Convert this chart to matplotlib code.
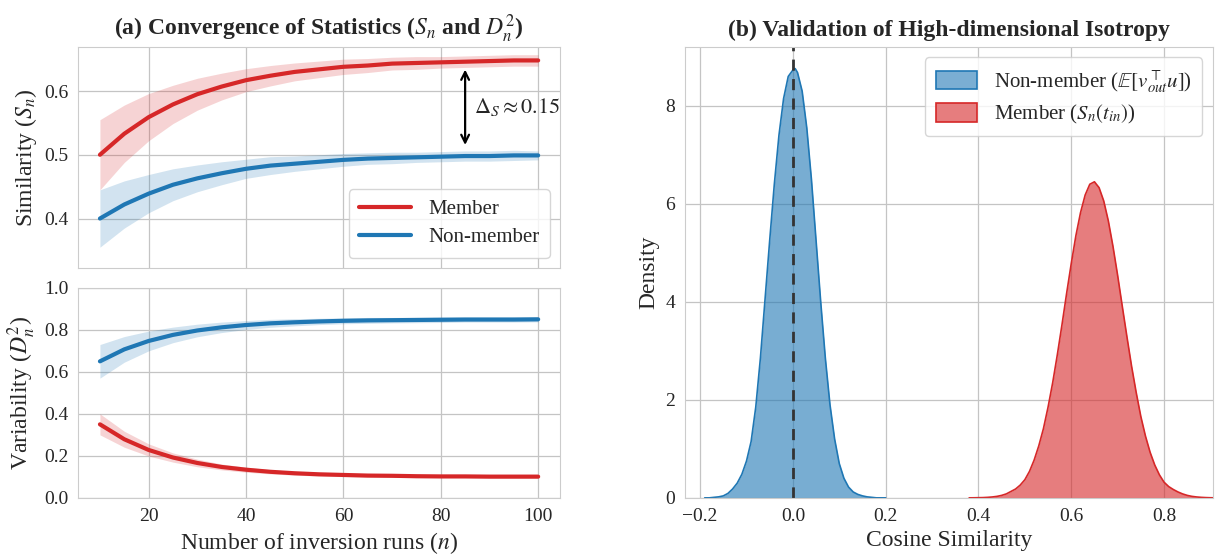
import numpy as np
import matplotlib
matplotlib.use("Agg")
import matplotlib.pyplot as plt
import seaborn as sns
from matplotlib.patches import Patch

sns.set_style("whitegrid")
plt.rcParams['font.family'] = ['Liberation Serif', 'DejaVu Serif']
plt.rcParams['mathtext.fontset'] = 'stix'

# --- data ---
runs = [10, 15, 20, 25, 30, 35, 40, 45, 50, 55, 60, 65, 70, 75, 80, 85, 90, 95, 100]

sim_member = [0.500, 0.533, 0.559, 0.579, 0.595, 0.607, 0.617, 0.624, 0.630, 0.634,
              0.638, 0.640, 0.643, 0.644, 0.645, 0.646, 0.647, 0.648, 0.648]
sim_member_err = [0.055, 0.045, 0.037, 0.030, 0.025, 0.021, 0.018, 0.016, 0.014, 0.013,
                  0.012, 0.011, 0.010, 0.010, 0.009, 0.009, 0.009, 0.009, 0.009]
sim_nonmember = [0.400, 0.422, 0.439, 0.453, 0.463, 0.471, 0.478, 0.483, 0.486, 0.489,
                 0.492, 0.494, 0.495, 0.496, 0.497, 0.498, 0.498, 0.499, 0.499]
sim_nonmember_err = [0.045, 0.037, 0.030, 0.025, 0.021, 0.018, 0.015, 0.014, 0.012, 0.011,
                     0.010, 0.009, 0.009, 0.008, 0.008, 0.008, 0.008, 0.008, 0.007]

var_member = [0.350, 0.279, 0.228, 0.192, 0.166, 0.147, 0.134, 0.124, 0.117, 0.112,
              0.109, 0.106, 0.105, 0.103, 0.102, 0.102, 0.101, 0.101, 0.101]
var_member_err = [0.050, 0.038, 0.029, 0.022, 0.018, 0.014, 0.012, 0.010, 0.009, 0.008,
                  0.008, 0.007, 0.007, 0.007, 0.006, 0.006, 0.006, 0.006, 0.006]
var_nonmember = [0.650, 0.707, 0.747, 0.776, 0.797, 0.812, 0.823, 0.831, 0.836, 0.840,
                 0.843, 0.845, 0.846, 0.847, 0.848, 0.849, 0.849, 0.849, 0.850]
var_nonmember_err = [0.080, 0.061, 0.047, 0.037, 0.030, 0.025, 0.021, 0.019, 0.017, 0.015,
                     0.014, 0.014, 0.013, 0.013, 0.013, 0.012, 0.012, 0.012, 0.012]

# density curves (cosine similarity)
cos_nonmember = [-0.19, -0.18, -0.17, -0.16, -0.15, -0.14, -0.13, -0.12, -0.11, -0.10,
                 -0.09, -0.08, -0.07, -0.06, -0.05, -0.04, -0.03, -0.02, -0.01, 0.00,
                 0.005, 0.01, 0.02, 0.03, 0.04, 0.05, 0.06, 0.07, 0.08, 0.09, 0.10,
                 0.11, 0.12, 0.13, 0.14, 0.15, 0.16, 0.17, 0.18, 0.19, 0.20]
dens_nonmember = [0.00, 0.00, 0.01, 0.02, 0.04, 0.09, 0.18, 0.30, 0.48, 0.75,
                  1.15, 1.85, 2.85, 4.05, 5.25, 6.40, 7.40, 8.15, 8.60, 8.73,
                  8.76, 8.68, 8.30, 7.55, 6.50, 5.25, 4.00, 2.85, 1.90, 1.20, 0.70,
                  0.40, 0.22, 0.12, 0.07, 0.04, 0.02, 0.01, 0.00, 0.00, 0.00]

cos_member = [0.38, 0.39, 0.40, 0.41, 0.42, 0.43, 0.44, 0.45, 0.46, 0.47, 0.48, 0.49,
              0.50, 0.51, 0.52, 0.53, 0.54, 0.55, 0.56, 0.57, 0.58, 0.59, 0.60, 0.61,
              0.62, 0.63, 0.64, 0.65, 0.66, 0.67, 0.68, 0.69, 0.70, 0.71, 0.72, 0.73,
              0.74, 0.75, 0.76, 0.77, 0.78, 0.79, 0.80, 0.81, 0.82, 0.83, 0.84, 0.85,
              0.86, 0.87, 0.88, 0.89, 0.90, 0.91]
dens_member = [0.000, 0.001, 0.003, 0.005, 0.010, 0.018, 0.030, 0.050, 0.080, 0.130, 0.180, 0.260,
               0.370, 0.540, 0.770, 1.060, 1.410, 1.850, 2.350, 2.920, 3.530, 4.170, 4.780, 5.350,
               5.820, 6.180, 6.400, 6.450, 6.330, 6.060, 5.650, 5.130, 4.540, 3.910, 3.290, 2.690,
               2.150, 1.660, 1.260, 0.930, 0.670, 0.470, 0.320, 0.230, 0.170, 0.120, 0.080, 0.050,
               0.030, 0.018, 0.010, 0.005, 0.002, 0.000]

RED = '#d62728'
BLUE = '#1f77b4'
TICK_FS = 14
LABEL_FS = 17
TITLE_FS = 17

fig = plt.figure(figsize=(12.25, 5.6), dpi=100)
ax1 = fig.add_axes([0.0637, 0.521, 0.3935, 0.395])
ax2 = fig.add_axes([0.0637, 0.111, 0.3935, 0.375], sharex=ax1)
ax3 = fig.add_axes([0.559, 0.111, 0.431, 0.805])

for ax in (ax1, ax2, ax3):
    ax.tick_params(labelsize=TICK_FS)
    ax.grid(color='#c4c4c4', linewidth=0.9)
    for s in ax.spines.values():
        s.set_color('#cccccc')

r = np.array(runs)

# (a) top: similarity
ax1.fill_between(r, np.array(sim_member) - sim_member_err, np.array(sim_member) + sim_member_err,
                 color=RED, alpha=0.2, linewidth=0)
ax1.fill_between(r, np.array(sim_nonmember) - sim_nonmember_err, np.array(sim_nonmember) + sim_nonmember_err,
                 color=BLUE, alpha=0.2, linewidth=0)
ax1.plot(r, sim_member, color=RED, lw=3, label='Member')
ax1.plot(r, sim_nonmember, color=BLUE, lw=3, label='Non-member')
ax1.annotate('', xy=(85, 0.638), xytext=(85, 0.511),
             arrowprops=dict(arrowstyle='<->', color='black', lw=1.6, mutation_scale=14))
ax1.text(86.8, 0.575, r'$\Delta_S \approx 0.15$', fontsize=16, va='center', ha='left')
ax1.set_ylim(0.322, 0.669)
ax1.set_yticks([0.4, 0.5, 0.6])
ax1.set_ylabel(r'Similarity ($S_n$)', fontsize=LABEL_FS)
ax1.tick_params(labelbottom=False)
ax1.set_title(r'(a) Convergence of Statistics ($S_n$ and $D_n^2$)', fontsize=TITLE_FS,
              fontweight='bold', pad=8)
leg = ax1.legend(loc='lower right', fontsize=15, frameon=True, borderpad=0.5,
                 handlelength=2.5, labelspacing=0.4)
leg.get_frame().set_edgecolor('#cccccc')

# (a) bottom: variability
ax2.fill_between(r, np.array(var_nonmember) - var_nonmember_err, np.array(var_nonmember) + var_nonmember_err,
                 color=BLUE, alpha=0.2, linewidth=0)
ax2.fill_between(r, np.array(var_member) - var_member_err, np.array(var_member) + var_member_err,
                 color=RED, alpha=0.2, linewidth=0)
ax2.plot(r, var_nonmember, color=BLUE, lw=3)
ax2.plot(r, var_member, color=RED, lw=3)
ax2.set_ylim(0, 1.0)
ax2.set_yticks([0.0, 0.2, 0.4, 0.6, 0.8, 1.0])
ax2.set_xticks([20, 40, 60, 80, 100])
ax2.set_xlim(5.5, 104.5)
ax2.set_ylabel(r'Variability ($D_n^2$)', fontsize=LABEL_FS)
ax2.set_xlabel(r'Number of inversion runs ($n$)', fontsize=LABEL_FS)

# (b) densities
ax3.fill_between(cos_nonmember, dens_nonmember, color=BLUE, alpha=0.6, linewidth=0)
ax3.plot(cos_nonmember, dens_nonmember, color=BLUE, lw=1.2)
ax3.fill_between(cos_member, dens_member, color=RED, alpha=0.6, linewidth=0)
ax3.plot(cos_member, dens_member, color=RED, lw=1.2)
ax3.axvline(0, color='#333333', linestyle='--', lw=2, dashes=(4, 3))
ax3.set_xlim(-0.233, 0.905)
ax3.set_ylim(0, 9.2)
ax3.set_yticks([0, 2, 4, 6, 8])
ax3.set_xticks([-0.2, 0.0, 0.2, 0.4, 0.6, 0.8])
ax3.set_xticklabels(['\u22120.2', '0.0', '0.2', '0.4', '0.6', '0.8'])
ax3.set_xlabel('Cosine Similarity', fontsize=LABEL_FS)
ax3.set_ylabel('Density', fontsize=LABEL_FS)
ax3.set_title('(b) Validation of High-dimensional Isotropy', fontsize=TITLE_FS,
              fontweight='bold', pad=8)
handles = [Patch(facecolor=(0.478, 0.682, 0.827), edgecolor=BLUE, lw=1.2),
           Patch(facecolor=(0.902, 0.490, 0.494), edgecolor=RED, lw=1.2)]
leg3 = ax3.legend(handles, [r'Non-member ($\mathbb{E}[v_{out}^{\top}u]$)',
                            r'Member ($S_n(t_{in})$)'],
                  loc='upper right', fontsize=15, frameon=True, borderpad=0.5,
                  handlelength=2.0, handleheight=1.0, labelspacing=0.4)
leg3.get_frame().set_edgecolor('#cccccc')

fig.savefig('out.png', dpi=100)
